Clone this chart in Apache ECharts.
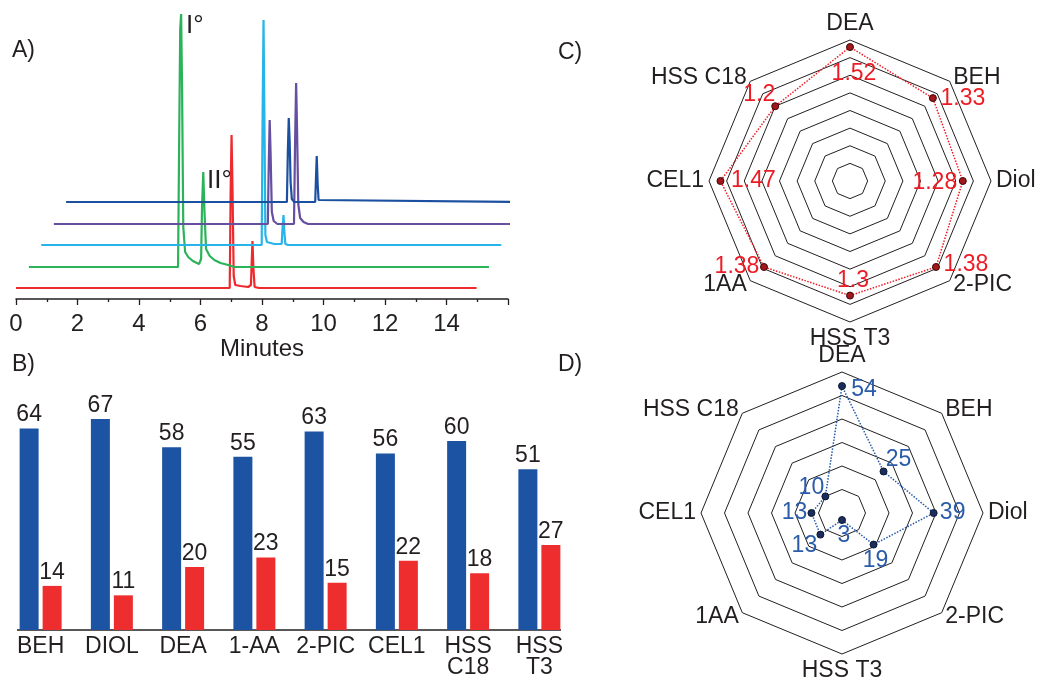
<!DOCTYPE html>
<html>
<head>
<meta charset="utf-8">
<script src="https://cdn.jsdelivr.net/npm/echarts@6/dist/echarts.min.js"></script>
<style>
html, body { margin: 0; padding: 0; background: #fff; }
#main { width: 1037px; height: 679px; }
</style>
</head>
<body>
<div id="main"></div>
<script>
// A) chromatograms: [minutes, signal above the trace's own baseline]
var traceRed = [[0, 0], [6.95, 0], [6.98, 95], [7.01, 153], [7.04, 100], [7.08, 12], [7.13, 3], [7.3, 2], [7.55, 1], [7.64, 3], [7.67, 30], [7.69, 47], [7.72, 20], [7.76, 1], [7.9, 0], [14.98, 0]];
var traceGreen = [[0.42, 0], [5.27, 0], [5.31, 140], [5.34, 238], [5.37, 253], [5.4, 180], [5.44, 40], [5.5, 15], [5.6, 10], [5.75, 6], [5.95, 3], [6.02, 8], [6.05, 60], [6.09, 95], [6.13, 55], [6.18, 18], [6.3, 11], [6.45, 7], [6.65, 4], [6.9, 2], [7.1, 0], [15.38, 0]];
var traceCyan = [[0.82, 0], [7.99, 0], [8.02, 130], [8.05, 225], [8.08, 120], [8.11, 10], [8.16, 3], [8.4, 1], [8.64, 1], [8.67, 18], [8.7, 30], [8.73, 12], [8.76, 1], [8.85, 0], [15.78, 0]];
var tracePurple = [[1.23, 0], [8.19, 0], [8.22, 60], [8.25, 104], [8.28, 70], [8.32, 12], [8.38, 3], [8.5, 0], [9.04, 0], [9.08, 90], [9.11, 141], [9.14, 95], [9.18, 20], [9.24, 6], [9.35, 2], [9.5, 0], [16.18, 0]];
var traceBlue = [[1.63, 0], [8.81, 0], [8.84, 50], [8.87, 84], [8.9, 60], [8.93, 20], [8.97, 3], [9.05, 0], [9.73, 0], [9.76, 28], [9.78, 46], [9.81, 18], [9.84, 2], [9.9, 0], [16.56, 0]];

// B) bars
var columns = ['BEH', 'DIOL', 'DEA', '1-AA', '2-PIC', 'CEL1', 'HSS\nC18', 'HSS\nT3'];
var blueBars = [64, 67, 58, 55, 63, 56, 60, 51];
var redBars = [14, 11, 20, 23, 15, 22, 18, 27];

// C) and D) radars, axes listed counterclockwise from the top
var radarAxes = ['DEA', 'HSS C18', 'CEL1', '1AA', 'HSS T3', '2-PIC', 'Diol', 'BEH'];
var radarC = [1.52, 1.2, 1.47, 1.38, 1.3, 1.38, 1.28, 1.33];
var radarD = [54, 10, 13, 13, 3, 19, 39, 25];

var FONT = '"Liberation Sans", Arial, sans-serif';
var INK = '#231f20';

var chart = echarts.init(document.getElementById('main'));

// chromatogram stacking (baseline lift, pixels) and colours
var traces = [
    { data: traceRed, lift: 11, color: '#ee2a2e' },
    { data: traceGreen, lift: 32, color: '#2bb35a' },
    { data: traceCyan, lift: 54, color: '#27b4e8' },
    { data: tracePurple, lift: 75, color: '#664ea0' },
    { data: traceBlue, lift: 97, color: '#1b50a0' }
];

var centerC = [850, 181];
var centerD = [842, 513];
// label offsets per radar axis (same order as radarAxes)
var offC = [[4, 27], [-16, -12], [33, 0], [-27, 0], [3, -15], [30, -2], [-28, 2], [30, 1]];
var offD = [[22, 4], [-14, -9], [-17, 0], [-16, 11], [2, 16], [2, 16], [19, 0], [15, -12]];

function placeLabels(center, offsets) {
    return function (p) {
        var x = p.rect.x + p.rect.width / 2;
        var y = p.rect.y + p.rect.height / 2;
        var ang = Math.atan2(center[1] - y, x - center[0]) * 180 / Math.PI;
        var k = ((Math.round((ang - 90) / 45) % 8) + 8) % 8;
        return { x: x + offsets[k][0], y: y + offsets[k][1], align: 'center', verticalAlign: 'middle' };
    };
}

var series = [];
traces.forEach(function (t) {
    series.push({
        type: 'line',
        xAxisIndex: 0,
        yAxisIndex: 0,
        clip: false,
        symbol: 'none',
        lineStyle: { color: t.color, width: 2.2 },
        data: t.data.map(function (d) { return [d[0], d[1] + t.lift]; })
    });
});

var barLabel = { show: true, position: 'top', distance: 2, color: INK, fontSize: 23, fontFamily: FONT };
series.push({
    type: 'bar', xAxisIndex: 1, yAxisIndex: 1,
    barWidth: 19, barGap: '21%',
    itemStyle: { color: '#1d53a3' },
    label: barLabel,
    data: blueBars
});
series.push({
    type: 'bar', xAxisIndex: 1, yAxisIndex: 1,
    barWidth: 19,
    itemStyle: { color: '#ee2d2f' },
    label: barLabel,
    data: redBars
});

series.push({
    type: 'radar', radarIndex: 0,
    symbol: 'circle', symbolSize: 7,
    itemStyle: { color: '#a3161b', borderColor: '#3a0a0a', borderWidth: 1 },
    lineStyle: { color: '#ed1c24', width: 1.5, type: 'dotted' },
    label: { show: true, color: '#ed1c24', fontSize: 23, fontFamily: FONT },
    labelLayout: placeLabels(centerC, offC),
    data: [{ value: radarC }]
});
series.push({
    type: 'radar', radarIndex: 1,
    symbol: 'circle', symbolSize: 7,
    itemStyle: { color: '#1a2d5c', borderColor: '#0d1830', borderWidth: 1 },
    lineStyle: { color: '#2358a8', width: 1.5, type: 'dotted' },
    label: { show: true, color: '#2a5caa', fontSize: 23, fontFamily: FONT },
    labelLayout: placeLabels(centerD, offD),
    data: [{ value: radarD }]
});

function radarBox(center, max, splits) {
    return {
        center: center,
        radius: 141,
        startAngle: 90,
        shape: 'polygon',
        splitNumber: splits,
        nameGap: 5,
        axisName: { color: INK, fontSize: 23, fontFamily: FONT },
        axisLine: { show: false },
        axisTick: { show: false },
        axisLabel: { show: false },
        splitArea: { show: false },
        splitLine: { lineStyle: { color: INK, width: 1 } },
        indicator: radarAxes.map(function (n) { return { name: n, min: 0, max: max }; })
    };
}

function panelText(text, left, top, size) {
    return {
        type: 'text', left: left, top: top,
        style: { text: text, fill: INK, font: (size || 23) + 'px ' + FONT }
    };
}

var option = {
    animation: false,
    backgroundColor: '#fff',
    textStyle: { fontFamily: FONT },
    grid: [
        { left: 16, top: 9, width: 492, height: 290 },
        { left: 5, top: 378, width: 570, height: 252 }
    ],
    xAxis: [
        {
            gridIndex: 0, type: 'value', min: 0, max: 16, interval: 2,
            splitLine: { show: false },
            axisLine: { lineStyle: { color: INK, width: 1.5 } },
            axisTick: { length: 6, lineStyle: { color: INK, width: 1.3 } },
            minorTick: { show: true, splitNumber: 2, length: 3, lineStyle: { color: INK, width: 1.3 } },
            axisLabel: {
                color: INK, fontSize: 24, margin: 13,
                formatter: function (v) { return v > 14 ? '' : v; }
            },
            name: 'Minutes', nameLocation: 'middle', nameGap: 34,
            nameTextStyle: { color: INK, fontSize: 24 }
        },
        {
            gridIndex: 1, type: 'category', data: columns,
            axisLine: { show: false },
            axisTick: { show: false },
            axisLabel: { color: INK, fontSize: 23, lineHeight: 21, margin: 6, interval: 0 }
        }
    ],
    yAxis: [
        { gridIndex: 0, type: 'value', min: 0, max: 290, show: false },
        { gridIndex: 1, type: 'value', min: 0, max: 80, show: false }
    ],
    radar: [radarBox(centerC, 1.6, 8), radarBox(centerD, 60, 6)],
    graphic: [
        panelText('A)', 12, 39),
        panelText('B)', 12, 353),
        panelText('C)', 558, 41),
        panelText('D)', 558, 353),
        panelText('I°', 186, 13, 26),
        panelText('II°', 207, 168, 26),
        {
            type: 'line',
            shape: { x1: 17, y1: 630, x2: 561, y2: 630 },
            style: { stroke: INK, lineWidth: 1.5 }
        }
    ],
    series: series
};

chart.setOption(option);
</script>
</body>
</html>
